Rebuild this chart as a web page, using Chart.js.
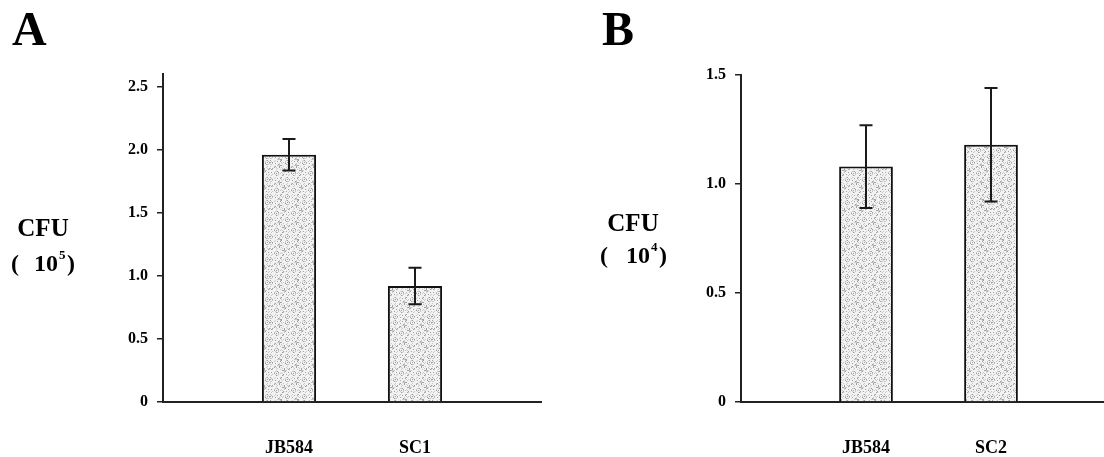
<!DOCTYPE html>
<html>
<head>
<meta charset="utf-8">
<script src="https://cdn.jsdelivr.net/npm/chart.js@4.4.1/dist/chart.umd.min.js"></script>
<style>
html, body { margin: 0; padding: 0; background: #fff; overflow: hidden; width: 1104px; height: 457px; }
#chartA { position: absolute; left: 0; top: 0; }
#chartB { position: absolute; left: 560px; top: 0; }
</style>
</head>
<body>
<canvas id="chartA" width="569" height="457"></canvas>
<canvas id="chartB" width="584" height="457"></canvas>
<script>
// panel A, CFU x10^5
const strainsA = ['JB584', 'SC1'];
const cfuA = [1.96, 0.92];
const errA = [0.125, 0.145];
const ticksA = [0, 0.5, 1.0, 1.5, 2.0, 2.5];

// panel B, CFU x10^4
const strainsB = ['JB584', 'SC2'];
const cfuB = [1.08, 1.18];
const errB = [0.19, 0.26];
const ticksB = [0, 0.5, 1.0, 1.5];

const SERIF = '"Liberation Serif", "DejaVu Serif", serif';

// stippled grey fill like the scanned bars
function stipple() {
  let c = document.createElement('canvas');
  c.width = 54; c.height = 40;
  let g = c.getContext('2d');
  g.fillStyle = '#f2f2f2';
  g.fillRect(0, 0, 54, 40);
  for (let i = 0; i < 54; i++) {
    for (let j = 0; j < 40; j++) {
      let h = (i * 7919 + j * 104729 + i * j * 31) % 17;
      if (h < 5) {
        g.fillStyle = h < 2 ? '#a0a0a0' : '#c8c8c8';
        g.fillRect(i, j, 1, 1);
      }
    }
  }
  return g.createPattern(c, 'repeat');
}
const fill = stipple();

const errorBars = {
  id: 'errorBars',
  afterDatasetsDraw(chart, args, opts) {
    const ctx = chart.ctx;
    const meta = chart.getDatasetMeta(0);
    const y = chart.scales.y;
    const vals = chart.data.datasets[0].data;
    ctx.save();
    ctx.strokeStyle = '#1a1a1a';
    ctx.lineWidth = 2;
    for (let i = 0; i < vals.length; i++) {
      if (vals[i] == null) continue;
      let e = opts.errors[i - 1];
      let x = meta.data[i].x;
      let t = y.getPixelForValue(vals[i] + e);
      let b = y.getPixelForValue(vals[i] - e);
      ctx.beginPath();
      ctx.moveTo(x, t); ctx.lineTo(x, b);
      ctx.moveTo(x - 6.5, t); ctx.lineTo(x + 6.5, t);
      ctx.moveTo(x - 6.5, b); ctx.lineTo(x + 6.5, b);
      ctx.stroke();
    }
    ctx.restore();
  }
};

const panelText = {
  id: 'panelText',
  afterDraw(chart, args, opts) {
    const ctx = chart.ctx;
    ctx.save();
    ctx.fillStyle = '#000';
    ctx.textBaseline = 'alphabetic';
    opts.items.forEach(t => {
      ctx.font = 'bold ' + t.size + 'px ' + SERIF;
      ctx.textAlign = t.align || 'left';
      ctx.fillText(t.text, t.x, t.y);
    });
    ctx.restore();
  }
};

// note: x tick padding also pads the right edge, so canvas width = right edge + 28
function makeConfig(strains, values, errors, ticks, yMax, yWidth, top, texts) {
  return {
    type: 'bar',
    data: {
      labels: ['', ...strains, ''],
      datasets: [{
        data: [null, ...values, null],
        backgroundColor: fill,
        borderColor: '#111',
        borderWidth: 2,
        barPercentage: 0.43,
        categoryPercentage: 1
      }]
    },
    options: {
      responsive: false,
      animation: false,
      layout: { padding: { left: 0, right: 0, top: top, bottom: 0 } },
      plugins: {
        legend: { display: false },
        tooltip: { enabled: false },
        errorBars: { errors: errors },
        panelText: { items: texts }
      },
      scales: {
        x: {
          offset: false,
          grid: { display: false },
          border: { display: true, color: '#222', width: 2 },
          ticks: {
            autoSkip: false, maxRotation: 0, padding: 28, color: '#000',
            font: { family: SERIF, size: 18, weight: 'bold' }
          },
          afterFit: s => { s.height = 55; }
        },
        y: {
          min: 0,
          max: yMax,
          grid: { drawOnChartArea: false, tickLength: 6, color: '#222', lineWidth: 1.5 },
          border: { display: true, color: '#222', width: 2 },
          ticks: {
            padding: 9, color: '#000',
            font: { family: SERIF, size: 16, weight: 'bold' },
            callback: v => v === 0 ? '0' : v.toFixed(1)
          },
          afterBuildTicks: s => { s.ticks = ticks.map(v => ({ value: v })); },
          afterFit: s => { s.width = yWidth; }
        }
      }
    },
    plugins: [errorBars, panelText]
  };
}

const chartA = new Chart(document.getElementById('chartA'),
  makeConfig(strainsA, cfuA, errA, ticksA, 2.6, 163, 74, [
    { text: 'A', x: 12, y: 45, size: 48 },
    { text: 'CFU', x: 43, y: 236, size: 25, align: 'center' },
    { text: '(', x: 11, y: 271, size: 24 },
    { text: '10', x: 34, y: 271, size: 24 },
    { text: '5', x: 59, y: 259, size: 13 },
    { text: ')', x: 67, y: 271, size: 24 }
  ]));

const chartB = new Chart(document.getElementById('chartB'),
  makeConfig(strainsB, cfuB, errB, ticksB, 1.5, 181, 75, [
    { text: 'B', x: 42, y: 45, size: 48 },
    { text: 'CFU', x: 73, y: 231, size: 25, align: 'center' },
    { text: '(', x: 40, y: 263, size: 24 },
    { text: '10', x: 66, y: 263, size: 24 },
    { text: '4', x: 91, y: 251, size: 13 },
    { text: ')', x: 99, y: 263, size: 24 }
  ]));
</script>
</body>
</html>
